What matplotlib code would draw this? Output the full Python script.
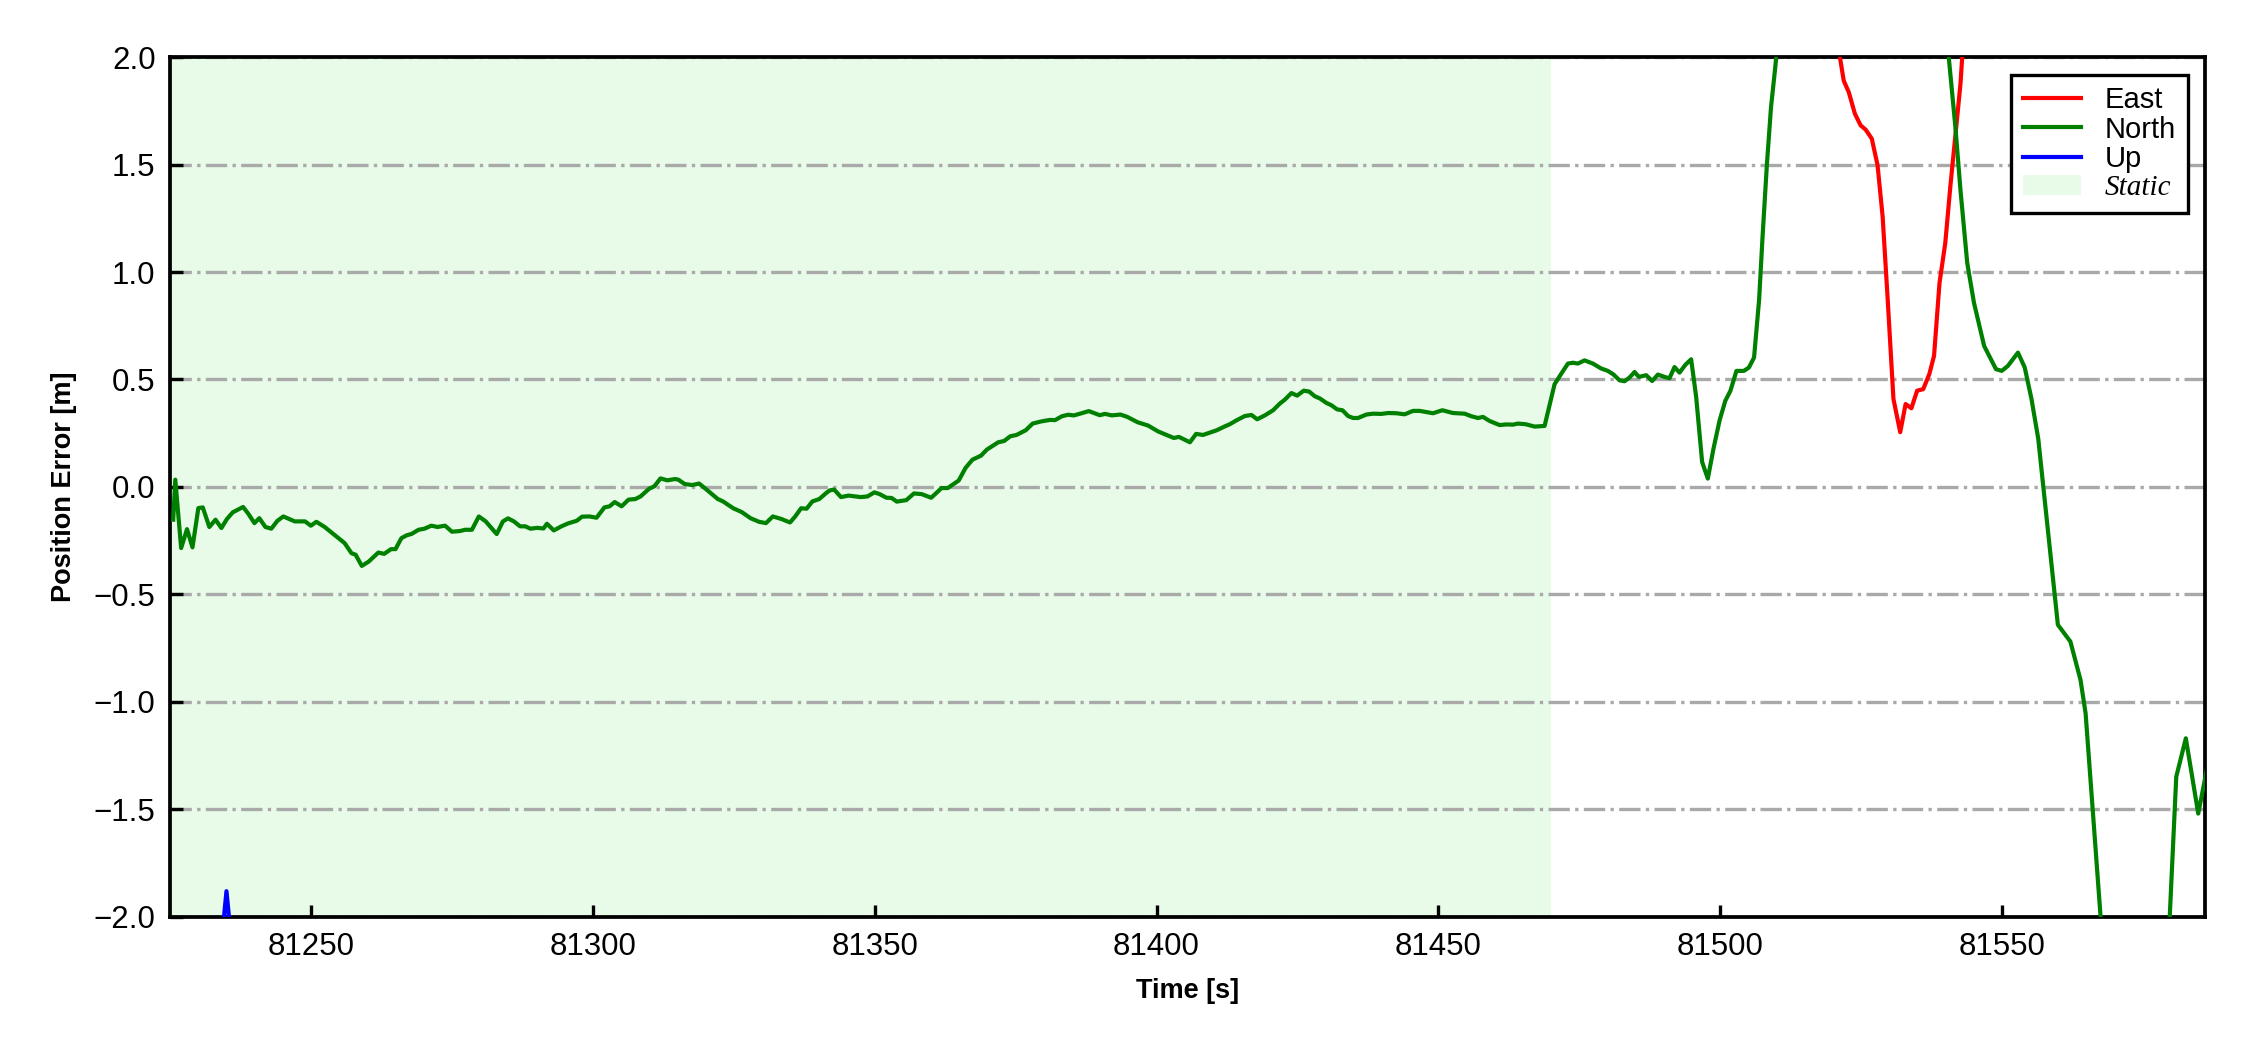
import matplotlib
matplotlib.use('Agg')
import matplotlib.pyplot as plt
import numpy as np
from matplotlib.patches import Patch
from matplotlib.lines import Line2D

# ---------------- data ----------------
# North error, segment 1
north_t1 = [81225.55, 81225.92, 81226.96, 81228.00, 81228.97, 81230.01, 81230.80, 81231.96, 81233.06, 81234.10,
            81235.08, 81236.11, 81237.95, 81238.86, 81239.96, 81240.82, 81241.91, 81242.95, 81244.05, 81245.09,
            81246.07, 81247.10, 81248.94, 81249.97, 81250.95, 81252.42, 81254.12, 81255.96, 81257.18, 81257.91,
            81259.01, 81260.23, 81261.94, 81262.98, 81264.20, 81264.99, 81266.03, 81266.95, 81267.86, 81269.08,
            81270.12, 81271.34, 81272.44, 81273.78, 81275.00, 81276.41, 81277.32, 81278.54, 81279.77, 81280.99,
            81282.94, 81284.04, 81284.95, 81285.99, 81287.09, 81288.01, 81288.92, 81290.14, 81291.24, 81291.85,
            81293.07, 81294.42, 81295.64, 81297.16, 81298.08, 81299.42, 81300.65, 81302.05, 81302.96, 81303.88,
            81305.10, 81306.32, 81307.54, 81308.46, 81309.98, 81310.90, 81312.00, 81313.22, 81314.56, 81315.17,
            81316.27, 81317.61, 81318.84]
north_v1 = [-0.152, 0.034, -0.284, -0.196, -0.281, -0.098, -0.095, -0.186, -0.152, -0.191,
            -0.149, -0.118, -0.093, -0.124, -0.168, -0.145, -0.186, -0.194, -0.157, -0.137,
            -0.148, -0.160, -0.160, -0.180, -0.162, -0.186, -0.222, -0.261, -0.308, -0.315,
            -0.367, -0.347, -0.305, -0.311, -0.289, -0.289, -0.238, -0.225, -0.218, -0.199,
            -0.194, -0.180, -0.186, -0.180, -0.208, -0.205, -0.199, -0.199, -0.137, -0.160,
            -0.219, -0.160, -0.146, -0.160, -0.183, -0.183, -0.194, -0.190, -0.193, -0.171,
            -0.202, -0.183, -0.169, -0.157, -0.138, -0.137, -0.143, -0.095, -0.090, -0.070,
            -0.090, -0.059, -0.056, -0.044, -0.008, 0.003, 0.040, 0.031, 0.037, 0.034,
            0.014, 0.009, 0.016]
# North error, segment 2
north_t2 = [81320.03, 81322.16, 81323.08, 81324.91, 81326.44, 81327.96, 81329.49, 81330.71, 81331.93, 81333.46,
            81334.98, 81335.90, 81336.94, 81337.91, 81338.95, 81340.17, 81341.39, 81342.01, 81342.80, 81344.02,
            81345.36, 81347.50, 81348.72, 81349.94, 81350.86, 81352.08, 81352.99, 81353.91, 81355.62, 81356.96,
            81358.31, 81360.02, 81360.93, 81361.85, 81362.95, 81364.90, 81366.12, 81367.34, 81368.87, 81369.90,
            81371.92, 81372.96, 81374.06, 81375.15, 81376.80, 81378.02, 81379.55, 81381.08, 81381.99, 81383.21,
            81384.31, 81385.35, 81386.57, 81387.98, 81389.93, 81390.85, 81392.07, 81393.59, 81394.81, 81396.65,
            81398.48, 81400.31, 81401.84, 81403.06, 81403.97, 81405.92, 81407.02, 81408.24, 81410.69]
north_v2 = [-0.009, -0.056, -0.067, -0.099, -0.117, -0.145, -0.162, -0.168, -0.137, -0.149,
            -0.165, -0.137, -0.099, -0.101, -0.067, -0.056, -0.028, -0.016, -0.012, -0.047,
            -0.040, -0.047, -0.044, -0.025, -0.033, -0.050, -0.051, -0.068, -0.061, -0.030,
            -0.033, -0.050, -0.028, -0.005, -0.005, 0.030, 0.089, 0.127, 0.146, 0.174,
            0.208, 0.214, 0.236, 0.242, 0.264, 0.295, 0.305, 0.312, 0.311, 0.329,
            0.336, 0.333, 0.342, 0.353, 0.334, 0.340, 0.333, 0.337, 0.326, 0.301,
            0.286, 0.258, 0.241, 0.228, 0.233, 0.208, 0.247, 0.242, 0.264]
# North error, segment 3
north_t3 = [81412.12, 81413.00, 81414.18, 81415.66, 81416.84, 81417.85, 81419.21, 81420.68, 81421.87, 81422.75,
            81423.93, 81424.94, 81426.12, 81427.07, 81428.07, 81428.96, 81430.14, 81431.03, 81432.03, 81432.98,
            81433.98, 81434.87, 81435.75, 81437.23, 81438.41, 81439.89, 81441.07, 81442.55, 81444.02, 81445.50,
            81446.68, 81449.05, 81450.70, 81452.59, 81454.66, 81455.84, 81457.02, 81457.91, 81459.09, 81460.87,
            81462.05, 81463.23, 81464.12, 81465.47, 81467.07, 81468.84, 81470.61, 81471.80, 81472.98, 81473.87,
            81474.75, 81475.93, 81477.41, 81478.89, 81480.07, 81481.07, 81482.14, 81483.02, 81483.91, 81484.80,
            81485.56, 81486.87, 81487.93, 81488.94, 81490.11, 81491.00, 81491.89, 81492.77, 81493.84, 81494.84,
            81495.73, 81496.79, 81497.80]
north_v3 = [0.282, 0.292, 0.310, 0.330, 0.335, 0.315, 0.333, 0.357, 0.388, 0.406,
            0.437, 0.425, 0.448, 0.444, 0.422, 0.412, 0.391, 0.380, 0.361, 0.357,
            0.330, 0.321, 0.321, 0.337, 0.341, 0.340, 0.344, 0.343, 0.338, 0.354,
            0.354, 0.343, 0.357, 0.344, 0.341, 0.329, 0.321, 0.326, 0.307, 0.288,
            0.291, 0.290, 0.295, 0.292, 0.281, 0.284, 0.478, 0.527, 0.574, 0.578,
            0.574, 0.589, 0.574, 0.551, 0.540, 0.523, 0.496, 0.492, 0.509, 0.535,
            0.512, 0.520, 0.493, 0.523, 0.512, 0.506, 0.558, 0.532, 0.569, 0.594,
            0.419, 0.116, 0.039]
# North error, segment 4 (values beyond +/-2 are off the visible range)
north_t4 = [81498.80, 81499.88, 81500.90, 81501.80, 81502.88, 81504.20, 81505.10, 81506.00, 81506.90, 81507.51,
            81508.29, 81509.01, 81509.73, 81510.40, 81540.10, 81541.72, 81542.62, 81543.82, 81545.02, 81546.82,
            81548.92, 81549.94, 81551.02, 81552.82, 81554.02, 81555.22, 81556.42, 81559.90, 81562.12, 81563.92,
            81564.82, 81567.90, 81579.60, 81580.90, 81582.60, 81584.80, 81586.43]
north_v4 = [0.178, 0.309, 0.401, 0.447, 0.540, 0.540, 0.556, 0.602, 0.872, 1.165,
            1.505, 1.767, 1.944, 2.12, 2.12, 1.674, 1.381, 1.042, 0.856, 0.656,
            0.548, 0.540, 0.563, 0.625, 0.556, 0.409, 0.224, -0.641, -0.719, -0.898,
            -1.053, -2.15, -2.08, -1.348, -1.169, -1.519, -1.30]

# East error (only the visible excursion)
east_t = [81520.30, 81521.91, 81522.81, 81523.89, 81524.91, 81525.81, 81526.89, 81527.91, 81528.81, 81529.71,
          81530.73, 81531.93, 81532.89, 81533.91, 81534.93, 81536.01, 81537.09, 81537.93, 81538.90, 81539.92,
          81540.82, 81541.72, 81542.62, 81543.30]
east_v = [2.15, 1.890, 1.836, 1.736, 1.682, 1.662, 1.620, 1.497, 1.258, 0.872,
          0.409, 0.255, 0.386, 0.366, 0.448, 0.455, 0.525, 0.610, 0.949, 1.134,
          1.397, 1.636, 1.875, 2.15]

# Up error (only the visible spike)
up_t = [81233.0, 81234.0, 81235.0, 81236.0, 81237.0]
up_v = [-2.6, -2.15, -1.88, -2.15, -2.6]

static_span = [81225.0, 81470.0]
x_limits = [81225.0, 81586.0]
y_limits = [-2.0, 2.0]
x_ticks = [81250, 81300, 81350, 81400, 81450, 81500, 81550]
y_ticks = [-2.0, -1.5, -1.0, -0.5, 0.0, 0.5, 1.0, 1.5, 2.0]
series_labels = ['East', 'North', 'Up', 'Static']

north_t = north_t1 + north_t2 + north_t3 + north_t4
north_v = north_v1 + north_v2 + north_v3 + north_v4

# ---------------- figure ----------------
plt.rcParams['font.family'] = ['Liberation Sans', 'DejaVu Sans']
fig = plt.figure(figsize=(7.5, 3.5), dpi=300)
ax = fig.add_axes([0.0756, 0.1267, 0.9044, 0.8190])

LW = 1.0
ax.axvspan(static_span[0], static_span[1], color='lightgreen', alpha=0.2, lw=0, zorder=0)
ax.plot(east_t, east_v, color='red', lw=LW, zorder=3)
ax.plot(north_t, north_v, color='green', lw=LW, zorder=3)
ax.plot(up_t, up_v, color='blue', lw=LW, zorder=3)

ax.set_xlim(*x_limits)
ax.set_ylim(*y_limits)
ax.set_xticks(x_ticks)
ax.set_yticks(y_ticks)
ax.yaxis.grid(True, linestyle='-.', color='darkgray', lw=0.8)
ax.xaxis.grid(False)
ax.tick_params(direction='in', length=3, width=0.8, labelsize=7.5, top=False, right=False, pad=3.5)
for s in ax.spines.values():
    s.set_linewidth(0.9)
    s.set_color('black')

ax.set_xlabel('Time [s]', fontsize=6.5, fontweight='bold')
ax.set_ylabel('Position Error [m]', fontsize=6.5, fontweight='bold')

handles = [Line2D([], [], color='red', lw=LW),
           Line2D([], [], color='green', lw=LW),
           Line2D([], [], color='blue', lw=LW),
           Patch(facecolor='lightgreen', alpha=0.2, edgecolor='none')]
leg = ax.legend(handles, series_labels, loc='upper right', fontsize=7, frameon=True, fancybox=False,
                edgecolor='black', framealpha=1, labelspacing=0.05, borderpad=0.4,
                handletextpad=0.8, borderaxespad=0.6)
leg.get_frame().set_linewidth(0.8)
st = leg.get_texts()[3]
st.set_fontfamily(['Liberation Serif', 'DejaVu Serif'])
st.set_fontstyle('italic')

fig.savefig('out.png', dpi=300)
